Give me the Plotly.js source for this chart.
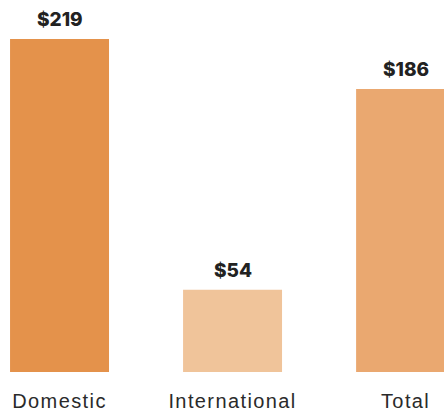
<!DOCTYPE html>
<html><head><meta charset="utf-8">
<script src="https://cdn.plot.ly/plotly-3.0.1.min.js"></script>
<style>html,body{margin:0;padding:0;background:#fff}#chart{width:444px;height:412px}
#chart .xtick text{letter-spacing:1.4px}</style>
</head><body><div id="chart"></div>
<script>
const categories = ["Domestic", "International", "Total"];
const values = [219, 54, 186];
const valueLabels = ["$219", "$54", "$186"];
const barColors = ["#E4924B", "#F0C49A", "#EAA870"];

const trace = {
  type: "bar",
  x: categories,
  y: values,
  marker: {color: barColors, line: {width: 0}},
  hoverinfo: "skip"
};

const annotations = categories.map((c, i) => ({
  x: c, y: values[i], text: valueLabels[i],
  xref: "x", yref: "y", showarrow: false,
  yanchor: "bottom", yshift: 6,
  font: {family: "Inter, Roboto, sans-serif", size: 19, color: "#222222", weight: 800}
}));

const layout = {
  width: 444, height: 412,
  margin: {l: 0, r: 0, t: 0, b: 40},
  paper_bgcolor: "#fff", plot_bgcolor: "#fff",
  bargap: 0.428,
  showlegend: false,
  xaxis: {
    type: "category", range: [-0.344, 2.222],
    showgrid: false, zeroline: false, showline: false, ticks: "",
    ticklabelstandoff: 15,
    tickfont: {family: "Liberation Sans, Arial, sans-serif", size: 20, color: "#2a2a2a"}
  },
  yaxis: {range: [0, 244.6], visible: false, showgrid: false, zeroline: false},
  annotations: annotations
};

Plotly.newPlot("chart", [trace], layout, {displayModeBar: false, staticPlot: true});
</script></body></html>
